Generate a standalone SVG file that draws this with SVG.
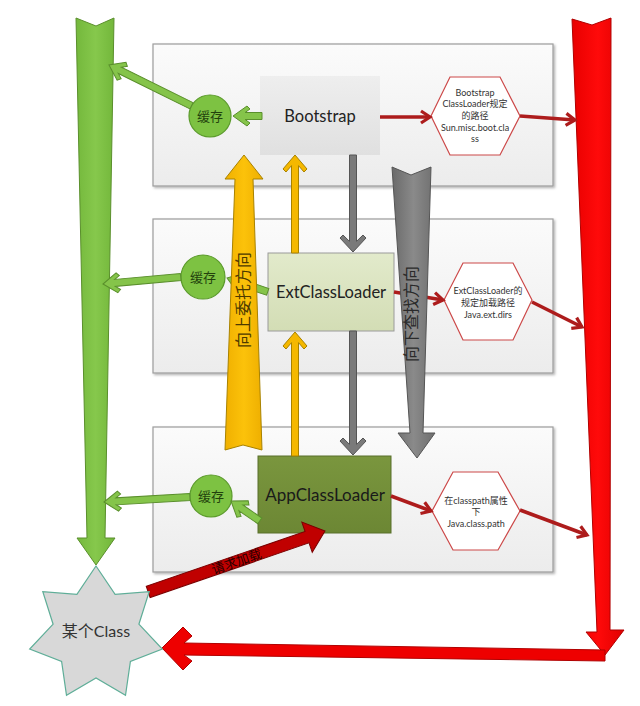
<svg xmlns="http://www.w3.org/2000/svg" width="640" height="706" viewBox="0 0 640 706">
<defs>
<linearGradient id="pg" x1="0" y1="0" x2="0" y2="1"><stop offset="0" stop-color="#fbfbfb"/><stop offset="1" stop-color="#ececec"/></linearGradient>
<linearGradient id="bg" x1="0" y1="0" x2="0" y2="1"><stop offset="0" stop-color="#eeeeee"/><stop offset="1" stop-color="#e0e0e0"/></linearGradient>
<linearGradient id="eg" x1="0" y1="0" x2="0" y2="1"><stop offset="0" stop-color="#e2eacb"/><stop offset="1" stop-color="#d3ddb5"/></linearGradient>
<linearGradient id="ag" x1="0" y1="0" x2="0" y2="1"><stop offset="0" stop-color="#7a963e"/><stop offset="1" stop-color="#6c8734"/></linearGradient>
<linearGradient id="gg" x1="0" y1="0" x2="1" y2="0"><stop offset="0" stop-color="#74b83c"/><stop offset="0.5" stop-color="#86c84c"/><stop offset="1" stop-color="#72b63a"/></linearGradient>
<linearGradient id="rg" x1="0" y1="0" x2="1" y2="0"><stop offset="0" stop-color="#e80000"/><stop offset="0.5" stop-color="#ff0a0a"/><stop offset="1" stop-color="#e00000"/></linearGradient>
<linearGradient id="yg" x1="0" y1="0" x2="1" y2="0"><stop offset="0" stop-color="#f0b000"/><stop offset="0.5" stop-color="#fcc20a"/><stop offset="1" stop-color="#eeae00"/></linearGradient>
<linearGradient id="dg" x1="0" y1="0" x2="1" y2="0"><stop offset="0" stop-color="#6a6a6a"/><stop offset="0.5" stop-color="#8a8a8a"/><stop offset="1" stop-color="#6e6e6e"/></linearGradient>
<filter id="sh" x="-5%" y="-5%" width="110%" height="115%"><feDropShadow dx="1.5" dy="1.5" stdDeviation="1.2" flood-opacity="0.3"/></filter>
<marker id="rh" markerUnits="userSpaceOnUse" markerWidth="16" markerHeight="16" refX="12" refY="8" orient="auto"><path d="M3,2 L12,8 L3,14" fill="none" stroke="#ad1c1c" stroke-width="3.2"/></marker>
<style>
.panel{fill:url(#pg);stroke:#9c9c9c;stroke-width:1.2}
.lt{font-family:Lato,"Noto Sans","Noto Sans CJK SC",sans-serif}
.cjk{font-family:"Noto Sans CJK SC",sans-serif}
.ga{fill:#85c44a;stroke:#5a8f2c;stroke-width:1}
.ya{fill:#f5b800;stroke:#a88200;stroke-width:1}
.da{fill:#7a7a7a;stroke:#555;stroke-width:1}
.rl{stroke:#ad1c1c;stroke-width:3.5;fill:none;marker-end:url(#rh)}
.hex{fill:#ffffff;stroke:#cc4848;stroke-width:1.2}
.ht{font-size:9px;fill:#333;text-anchor:middle}
.cache{fill:#7dc242;stroke:#5a9a2a;stroke-width:1.2}
.ct{font-size:13px;fill:#23420d;text-anchor:middle}
</style>
</defs>

<g id="panels">
<rect id="panel-boot" class="panel" x="153" y="44" width="400" height="142" filter="url(#sh)"/>
<rect id="panel-ext" class="panel" x="153" y="219" width="400" height="154" filter="url(#sh)"/>
<rect id="panel-app" class="panel" x="153" y="427" width="400" height="145" filter="url(#sh)"/>
</g>

<g id="big-green"><polygon points="76,18 96,26 114,18 105,538 115,538 96,565 77,538 87,538" fill="url(#gg)" stroke="#5a8f2c" stroke-width="1"/></g>
<g id="big-red"><polygon points="572,19 592,25 611,18 610,630 624,630 605,655 586,632 597,632" fill="url(#rg)" stroke="#b00000" stroke-width="1"/>
<polygon points="162,648 183,627 192,636 184,643 605,650 605,661 184,655 192,661 183,670" fill="#ee0000" stroke="#b00000" stroke-width="1"/></g>

<g id="bootstrap"><rect x="260" y="76" width="120" height="79" fill="url(#bg)"/><text class="lt" x="320" y="122" font-size="16.5" fill="#222" text-anchor="middle">Bootstrap</text></g>
<g id="ext"><rect x="268" y="253" width="126" height="78" fill="url(#eg)" stroke="#9a9a9a" stroke-width="1"/><text class="lt" x="331" y="298" font-size="16.5" fill="#222" text-anchor="middle">ExtClassLoader</text></g>
<g id="app"><rect x="258" y="456" width="133" height="77" fill="url(#ag)" stroke="#586f2a" stroke-width="1"/><text class="lt" x="325" y="501" font-size="17" fill="#1a1a1a" text-anchor="middle">AppClassLoader</text></g>

<g id="cache1"><circle class="cache" cx="210" cy="116" r="21"/><text class="cjk ct" x="210" y="121">缓存</text></g>
<g id="cache2"><circle class="cache" cx="203" cy="277" r="22"/><text class="cjk ct" x="203" y="282">缓存</text></g>
<g id="cache3"><circle class="cache" cx="211" cy="496" r="21"/><text class="cjk ct" x="211" y="501">缓存</text></g>

<g id="hex-boot"><polygon class="hex" points="431,116 450,77 500,77 520,116 500,155 450,155"/>
<text class="lt ht" x="475" y="95.5">Bootstrap</text><text class="lt ht" x="475" y="107">ClassLoader规定</text><text class="lt ht" x="475" y="119">的路径</text><text class="lt ht" x="475" y="130.5">Sun.misc.boot.cla</text><text class="lt ht" x="475" y="142">ss</text></g>
<g id="hex-ext"><polygon class="hex" points="444,300 463,263 513,263 532,300 513,340 463,340"/>
<text class="lt ht" x="488" y="294">ExtClassLoader的</text><text class="lt ht" x="488" y="305.5">规定加载路径</text><text class="lt ht" x="488" y="317.5">Java.ext.dirs</text></g>
<g id="hex-app"><polygon class="hex" points="432,511 453,472 498,472 520,511 498,550 453,550"/>
<text class="lt ht" x="476" y="504">在classpath属性</text><text class="lt ht" x="476" y="514.5">下</text><text class="lt ht" x="476" y="526.5">Java.class.path</text></g>

<g id="connectors">
<polygon class="ga" transform="translate(233,116) rotate(180)" points="0,0 -14,-10 -17,-7 -12.1,-3.5 -29,-3.5 -29,3.5 -12.1,3.5 -17,7 -14,10"/>
<polygon class="ga" transform="translate(109,65) rotate(206.3)" points="0,0 -14,-10 -17,-7 -12.1,-3.5 -92,-3.5 -92,3.5 -12.1,3.5 -17,7 -14,10"/>
<polygon class="ga" transform="translate(227,278) rotate(198.85)" points="0,0 -14,-10 -17,-7 -12.1,-3.5 -43,-3.5 -43,3.5 -12.1,3.5 -17,7 -14,10"/>
<polygon class="ga" transform="translate(103,284) rotate(174.87)" points="0,0 -14,-10 -17,-7 -12.1,-3.5 -78,-3.5 -78,3.5 -12.1,3.5 -17,7 -14,10"/>
<polygon class="ga" transform="translate(231,501) rotate(214.6)" points="0,0 -14,-10 -17,-7 -12.1,-3.5 -35,-3.5 -35,3.5 -12.1,3.5 -17,7 -14,10"/>
<polygon class="ga" transform="translate(104,502) rotate(176.67)" points="0,0 -14,-10 -17,-7 -12.1,-3.5 -86,-3.5 -86,3.5 -12.1,3.5 -17,7 -14,10"/>

<polygon class="ya" transform="translate(295,155) rotate(-90)" points="0,0 -14,-12 -17,-9 -10.6,-3.5 -98,-3.5 -98,3.5 -10.6,3.5 -17,9 -14,12"/>
<polygon class="ya" transform="translate(295,332) rotate(-90)" points="0,0 -14,-12 -17,-9 -10.6,-3.5 -124,-3.5 -124,3.5 -10.6,3.5 -17,9 -14,12"/>

<polygon class="da" transform="translate(353,252) rotate(90)" points="0,0 -14,-13 -17,-10 -10.6,-3.5 -97,-3.5 -97,3.5 -10.6,3.5 -17,10 -14,13"/>
<polygon class="da" transform="translate(353,455) rotate(90)" points="0,0 -14,-13 -17,-10 -10.6,-3.5 -124,-3.5 -124,3.5 -10.6,3.5 -17,10 -14,13"/>

<line class="rl" x1="380" y1="117" x2="430" y2="117"/>
<line class="rl" x1="520" y1="116" x2="575" y2="120"/>
<line class="rl" x1="394" y1="292" x2="443" y2="300"/>
<line class="rl" x1="532" y1="302" x2="582" y2="327"/>
<line class="rl" x1="391" y1="496" x2="431" y2="511"/>
<line class="rl" x1="520" y1="510" x2="587" y2="535"/>
</g>

<g id="up-arrow"><polygon points="225,450 243,445 262,450 253,179 263,179 244,155 225,179 235,179" fill="url(#yg)" stroke="#a88200" stroke-width="1"/>
<text class="cjk" transform="translate(249,300) rotate(-90)" font-size="16" fill="#4d3a00" text-anchor="middle">向上委托方向</text></g>

<g id="down-arrow"><polygon points="392,167 411,175 431,167 423,433 435,433 417,458 398,433 410,433" fill="url(#dg)" stroke="#555" stroke-width="1"/>
<text class="cjk" transform="translate(417,314) rotate(-90)" font-size="16" fill="#2a2a2a" text-anchor="middle">向下查找方向</text></g>

<g id="request-arrow"><polygon transform="translate(325,531) rotate(-19)" points="0,0 -19,-16 -19,-6 -187,-6 -187,6 -19,6 -19,16" fill="#c00000" stroke="#7a0000" stroke-width="1"/>
<text class="cjk" transform="translate(238,566) rotate(-19)" font-size="13" fill="#2a0000" text-anchor="middle">请求加载</text></g>

<g id="some-class"><polygon points="96,566 115.1,594.4 149.2,591.6 138.9,624.2 162.3,649.1 130.4,661.4 125.5,695.3 96,678 66.5,695.3 61.6,661.4 29.7,649.1 53.1,624.2 42.8,591.6 76.9,594.4" fill="#d8d8d8" stroke="#5fae98" stroke-width="1.2"/>
<text class="lt" x="96" y="637" font-size="16" fill="#333" text-anchor="middle">某个Class</text></g>
</svg>
